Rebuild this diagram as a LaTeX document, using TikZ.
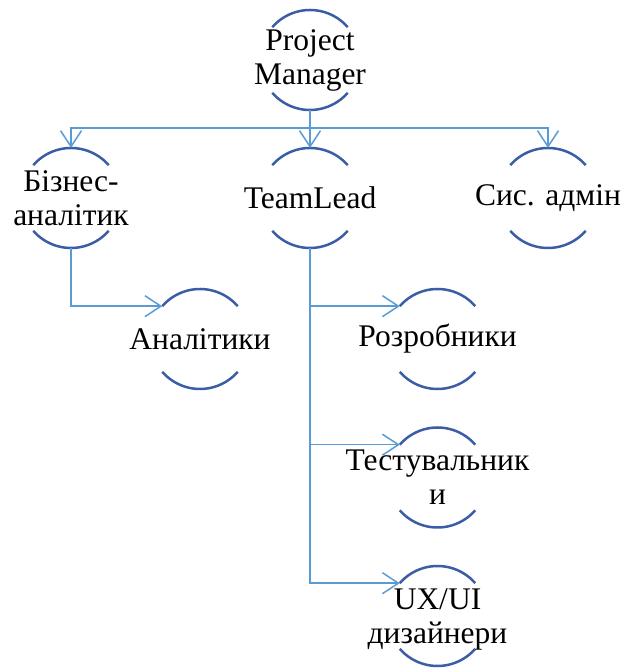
\documentclass[tikz,border=0pt]{standalone}
\usepackage{fontspec}
\setmainfont{Liberation Serif}
\usetikzlibrary{arrows.meta,calc}

\definecolor{rimblue}{HTML}{3A5DA6}
\definecolor{linkblue}{HTML}{5B9BD5}

\begin{document}
\begin{tikzpicture}[x=1pt,y=1pt,
  ring/.style={circle, minimum size=100pt, inner sep=0pt, outer sep=0pt},
  txt/.style={align=center, inner sep=0pt, font=\fontsize{31.5}{34}\selectfont},
  rim/.style={draw=rimblue, line width=2.5pt},
  link/.style={draw=linkblue, line width=1.5pt,
    -{Straight Barb[length=16pt,width=21pt,line width=1.5pt]}},
  bus/.style={draw=linkblue, line width=1.5pt}]
\useasboundingbox (0,0) rectangle (623,668);

% circle holders
\node[ring] (pm)  at (310,608)   {};
\node[ring] (ba)  at (71,470)    {};
\node[ring] (tl)  at (310,470)   {};
\node[ring] (sa)  at (548,470)   {};
\node[ring] (an)  at (200,329)   {};
\node[ring] (dev) at (437.5,329) {};
\node[ring] (qa)  at (437.5,190.5) {};
\node[ring] (ux)  at (437.5,52)  {};

% open arcs above and below each label
\foreach \n in {pm,ba,tl,sa,an,dev,qa,ux}{
  \draw[rim] (\n.41) arc[start angle=41,end angle=139,radius=50pt];
  \draw[rim] (\n.221) arc[start angle=221,end angle=319,radius=50pt];
}

% labels
\node[txt] (pmt)  at (pm)  {Project\\Manager};
\node[txt] (bat)  at (ba)  {Бізнес-\\аналітик};
\node[txt] (tlt)  at (tl)  {TeamLead};
\node[txt] (sat)  at (sa)  {Сис. адмін};
\node[txt] (ant)  at (an)  {Аналітики};
\node[txt] (devt) at (dev) {Розробники};
\node[txt] (qat)  at (qa)  {Тестувальник\\и};
\node[txt, yshift=-3pt] (uxt) at (ux) {UX/UI\\дизайнери};

% connectors
\coordinate (busc) at (310,540);
\draw[bus] (pm.south) -- (busc);
\draw[link] (busc) -| (ba.north);
\draw[link] (busc) -| (sa.north);
\draw[link] (pm.south) -- (tl.north);

\draw[link] (ba.south) |- (an.139);
\draw[link] (tl.south) |- (dev.139);
\draw[link] (tl.south) |- (qa.139);
\draw[link] (tl.south) |- (ux.139);
\end{tikzpicture}
\end{document}
